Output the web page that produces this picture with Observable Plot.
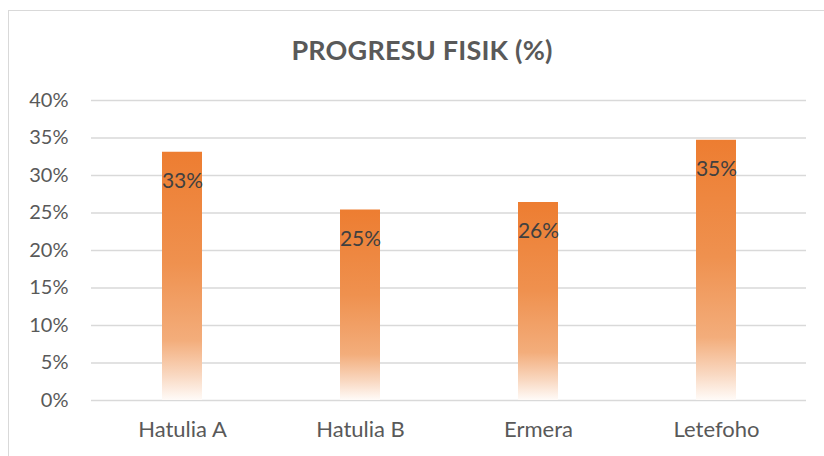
<!DOCTYPE html>
<html>
<head>
<meta charset="utf-8">
<script src="https://cdn.jsdelivr.net/npm/d3@7"></script>
<script src="https://cdn.jsdelivr.net/npm/@observablehq/plot@0.6"></script>
<style>
  html, body { margin: 0; padding: 0; background: #fff; }
  #wrap { position: relative; width: 824px; height: 456px; overflow: hidden; font-family: Lato, "Open Sans", sans-serif; }
  #frame { position: absolute; left: 8px; top: 10px; width: 900px; height: 600px; border: 1px solid #d9d9d9; box-sizing: border-box; }
  #title { position: absolute; left: 8px; width: 828px; top: 33px; line-height: 34px; text-align: center; font-weight: 700; font-size: 27px; color: #595959; letter-spacing: 0.2px; }
  #chart { position: absolute; left: 0; top: 0; }
</style>
</head>
<body>
<div id="wrap">
  <div id="frame"></div>
  <div id="title">PROGRESU FISIK (%)</div>
  <div id="chart"></div>
</div>
<script>
const categories = ["Hatulia A", "Hatulia B", "Ermera", "Letefoho"];
const values = [0.331, 0.254, 0.264, 0.347];
const yTicks = [0, 0.05, 0.10, 0.15, 0.20, 0.25, 0.30, 0.35, 0.40];

const data = categories.map((c, i) => ({category: c, value: values[i]}));
const pct = d3.format(".0%");

const chart = Plot.plot({
  width: 824,
  height: 456,
  marginLeft: 91,
  marginRight: 18,
  marginTop: 100,
  marginBottom: 56,
  style: {background: "transparent", fontFamily: "Lato, 'Open Sans', sans-serif"},
  x: {domain: categories, padding: 0, label: null},
  y: {domain: [0, 0.40], label: null},
  marks: [
    Plot.ruleY(yTicks, {stroke: "#d9d9d9", strokeWidth: 1.5}),
    Plot.barY(data, {x: "category", y: "value", fill: "url(#barGrad)", insetLeft: 69, insetRight: 69}),
    Plot.text(data, {x: "category", y: "value", text: d => pct(d.value), dy: 29, fill: "#404040", fontSize: 21}),
    Plot.axisY(yTicks, {tickFormat: pct, tickSize: 0, tickPadding: 23, fontSize: 20, fill: "#595959", label: null}),
    Plot.axisX({tickSize: 0, tickPadding: 21, fontSize: 22, fill: "#595959", label: null})
  ]
});

const svg = d3.select(chart);
const defs = svg.insert("defs", ":first-child");
const g = defs.append("linearGradient").attr("id", "barGrad")
  .attr("x1", 0).attr("y1", 0).attr("x2", 0).attr("y2", 1);
[
  [0, "#ED7D31"],
  [0.45, "#EF914F"],
  [0.76, "#F3AD7B"],
  [0.9, "#F9D8C1"],
  [1, "#FFFBF8"]
].forEach(([o, c]) => g.append("stop").attr("offset", o).attr("stop-color", c));

document.getElementById("chart").appendChild(chart);
</script>
</body>
</html>
